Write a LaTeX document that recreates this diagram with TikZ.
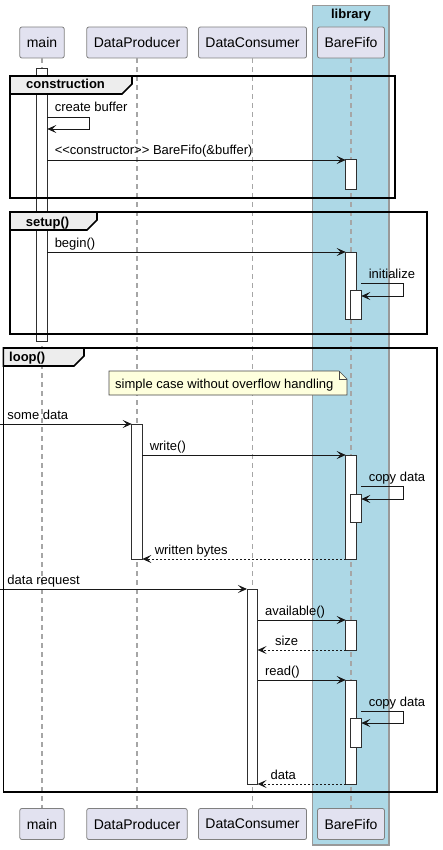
\documentclass[tikz,border=0pt]{standalone}
\usepackage{fontspec}
\setmainfont{Liberation Sans}
\usetikzlibrary{arrows.meta}
\definecolor{partfill}{HTML}{E2E2F0}
\definecolor{libfill}{HTML}{ADD8E6}
\definecolor{notefill}{HTML}{FEFFDD}
\definecolor{ink}{HTML}{181818}
\tikzset{
  part/.style={draw=ink!55, fill=partfill, rounded corners=2pt, line width=0.8pt,
    minimum height=31pt, inner xsep=7pt, font=\fontsize{14}{16}\selectfont},
  act/.style={draw=ink!90, fill=white, line width=1pt, minimum width=10.6pt,
    inner sep=0pt, outer sep=0pt},
  life/.style={draw=black!35, line width=1.1pt, dash pattern=on 5pt off 4pt},
  msg/.style={draw=ink, line width=0.9pt, -{Stealth[length=9pt,width=8pt,inset=4pt]}},
  ret/.style={msg, dash pattern=on 2pt off 2pt},
  txt/.style={anchor=base west, inner sep=0pt, font=\fontsize{13}{15}\selectfont},
  lbl/.style={txt, xshift=7pt, yshift=5pt},
  fragment/.style={draw=black, line width=1.6pt},
  tab/.style={fragment, fill=black!7},
  tabtext/.style={anchor=base west, inner sep=0pt, font=\bfseries\fontsize{13}{15}\selectfont}
}

\begin{document}
\begin{tikzpicture}[x=1pt, y=-1pt]
    \useasboundingbox (0,0) rectangle (443,850);
    \coordinate (left) at (0,0);

    % library box
    \draw [draw=black!40, line width=1.2pt, fill=libfill] (312.7,5.7) rectangle (389,845);
    \node [tabtext, anchor=base] (lib) at (351,19) {library};

    % participants
    \node [part] (mainT) at (42,42.5) {main};
    \node [part] (prodT) at (137,42.5) {DataProducer};
    \node [part] (consT) at (252.5,42.5) {DataConsumer};
    \node [part] (fifoT) at (351,42.5) {BareFifo};
    \node [part] (mainB) at (42,824) {main};
    \node [part] (prodB) at (137,824) {DataProducer};
    \node [part] (consB) at (252.5,824) {DataConsumer};
    \node [part] (fifoB) at (351,824) {BareFifo};

    \draw [life] (mainT) -- (mainB);
    \draw [life] (prodT) -- (prodB);
    \draw [life] (consT) -- (consB);
    \draw [life] (fifoT) -- (fifoB);

    % activations
    \node [act, minimum height=272pt] (mainA) at (42,205) {};
    \node [act, minimum height=30pt] (fifoA1) at (351,175) {};
    \node [act, minimum height=67pt] (fifoA2) at (351,285.5) {};
    \node [act, minimum height=29pt] (fifoA2i) at (356,304.5) {};
    \node [act, minimum height=135pt] (prodA) at (137,491.5) {};
    \node [act, minimum height=104pt] (fifoA3) at (351,507) {};
    \node [act, minimum height=28pt] (fifoA3i) at (356,508) {};
    \node [act, minimum height=195pt] (consA) at (252.3,686.5) {};
    \node [act, minimum height=30pt] (fifoA4) at (351,635) {};
    \node [act, minimum height=104pt] (fifoA5) at (351,732) {};
    \node [act, minimum height=29pt] (fifoA5i) at (356,732.5) {};

    % construction
    \draw [msg] ([yshift=-48pt]mainA.north east) node [lbl] (lCreate) {create buffer}
      -- ++(42,0) |- ([yshift=-60pt]mainA.north east);
    \draw [msg] (fifoA1.north west -| mainA.east)
      node [lbl] (lCtor) {<\kern0pt<constructor>\kern0pt> BareFifo(\&buffer)} -- (fifoA1.north west);

    % setup
    \draw [msg] (fifoA2.north west -| mainA.east) node [lbl] (lBegin) {begin()} -- (fifoA2.north west);
    \draw [msg] ([yshift=7pt]fifoA2i.north east) node [lbl] (lInit) {initialize}
      -- ++(42,0) |- ([yshift=-6pt]fifoA2i.north east);

    % loop
    \draw [msg] (prodA.north west -| left) node [lbl] (lSome) {some data} -- (prodA.north west);
    \draw [msg] (fifoA3.north west -| prodA.east) node [lbl] (lWrite) {write()} -- (fifoA3.north west);
    \draw [msg] ([yshift=8pt]fifoA3i.north east) node [lbl] (lCopy1) {copy data}
      -- ++(42,0) |- ([yshift=-5pt]fifoA3i.north east);
    \draw [ret] (fifoA3.south west) -- (prodA.south east)
      node [lbl, xshift=5pt] (lBytes) {written bytes};
    \draw [msg] (consA.north west -| left) node [lbl] (lReq) {data request} -- (consA.north west);
    \draw [msg] (fifoA4.north west -| consA.east) node [lbl] (lAvail) {available()} -- (fifoA4.north west);
    \draw [ret] (fifoA4.south west) -- (fifoA4.south west -| consA.east)
      node [lbl, xshift=10pt] (lSize) {size};
    \draw [msg] (fifoA5.north west -| consA.east) node [lbl] (lRead) {read()} -- (fifoA5.north west);
    \draw [msg] ([yshift=7pt]fifoA5i.north east) node [lbl] (lCopy2) {copy data}
      -- ++(42,0) |- ([yshift=-5pt]fifoA5i.north east);
    \draw [ret] (fifoA5.south west) -- (consA.south east)
      node [lbl, xshift=5.5pt] (lData) {data};

    % note
    \draw [draw=ink!80, line width=0.6pt, fill=notefill]
      (109,371) -- (339,371) -- (347,379) -- (347,395) -- (109,395) -- cycle;
    \draw [draw=ink!80, line width=0.6pt] (339,371) |- (347,379);
    \node [txt] (note) at (115,388.5) {simple case without overflow handling};

    % fragments
    \draw [fragment] (10,76) rectangle (395,198);
    \draw [tab] (10,76) -- (132,76) -- (132,84) -- (122,94) -- (10,94) -- cycle;
    \node [tabtext] (fConstr) at (26,89) {construction};

    \draw [fragment] (10,212) rectangle (427,334);
    \draw [tab] (10,212) -- (97,212) -- (97,220) -- (87,230) -- (10,230) -- cycle;
    \node [tabtext] (fSetup) at (25.7,226.5) {setup()};

    \draw [fragment] (3.3,348) rectangle (437,792);
    \draw [tab] (3.3,348) -- (84,348) -- (84,356) -- (74,366) -- (3.3,366) -- cycle;
    \node [tabtext] (fLoop) at (9,361.5) {loop()};
\end{tikzpicture}
\end{document}
